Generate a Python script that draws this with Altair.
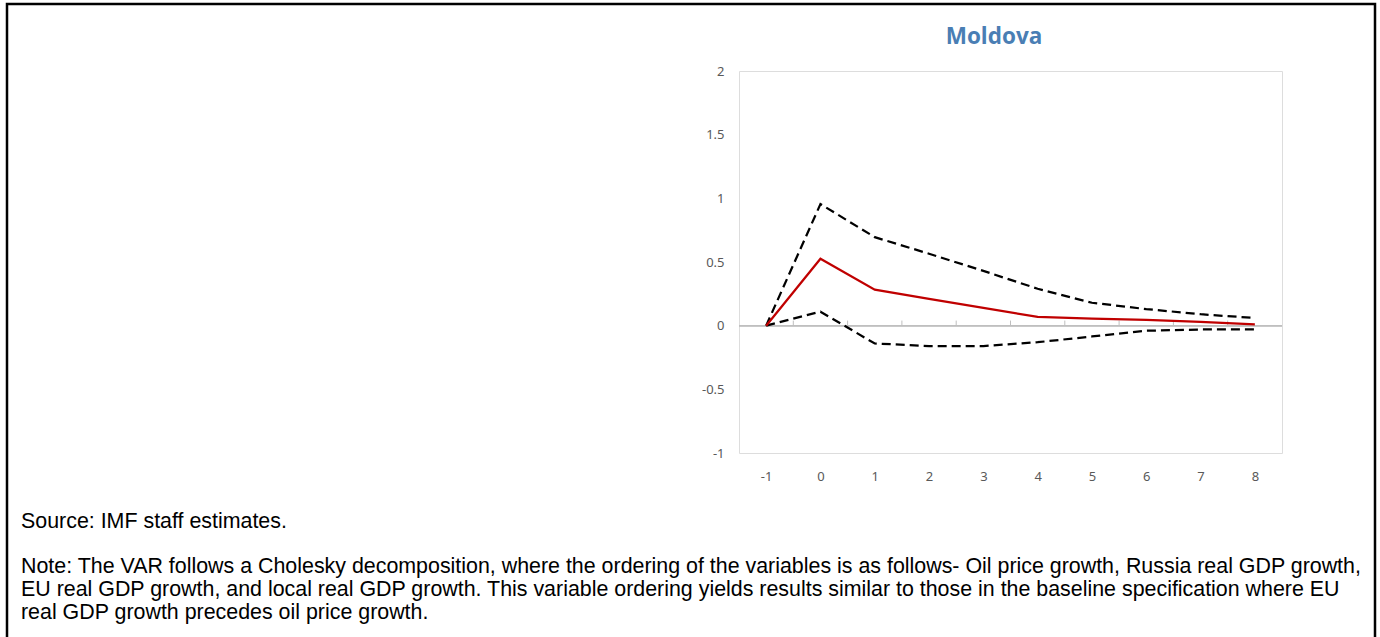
import altair as alt
import pandas as pd

# Impulse response horizon (quarters) and responses
horizon = [-1, 0, 1, 2, 3, 4, 5, 6, 7, 8]
response = [0.0, 0.525, 0.283, 0.21, 0.14, 0.069, 0.055, 0.045, 0.03, 0.01]
upper_band = [0.0, 0.955, 0.695, 0.565, 0.43, 0.29, 0.18, 0.13, 0.09, 0.06]
lower_band = [0.0, 0.11, -0.14, -0.16, -0.16, -0.13, -0.085, -0.04, -0.03, -0.03]

y_ticks = [-1, -0.5, 0, 0.5, 1, 1.5, 2]
boundary_ticks = [-0.5, 0.5, 1.5, 2.5, 3.5, 4.5, 5.5, 6.5, 7.5]

title_text = "Moldova"
source_text = "Source: IMF staff estimates."
note_lines = [
    "Note: The VAR follows a Cholesky decomposition, where the ordering of the variables is as follows- Oil price growth, Russia real GDP growth,",
    "EU real GDP growth, and local real GDP growth. This variable ordering yields results similar to those in the baseline specification where EU",
    "real GDP growth precedes oil price growth.",
]

resp_df = pd.DataFrame({"h": horizon, "v": response})
band_df = pd.concat([
    pd.DataFrame({"h": horizon, "v": upper_band, "band": "upper"}),
    pd.DataFrame({"h": horizon, "v": lower_band, "band": "lower"}),
])
tick_df = pd.DataFrame({"h": boundary_ticks})

AXIS_FONT = "Noto Sans"
NOTE_FONT = "Liberation Sans"

x_scale = alt.Scale(domain=[-1.5, 8.5], nice=False, zero=False)
y_scale = alt.Scale(domain=[-1, 2], nice=False)

x_enc = alt.X(
    "h:Q", scale=x_scale,
    axis=alt.Axis(values=horizon, ticks=False, domain=False, grid=False,
                  labelPadding=17, labelFontSize=13, labelColor="#595959",
                  labelFont=AXIS_FONT, title=None, labelFlush=False,
                  labelExpr="toString(datum.value)"),
)
y_enc = alt.Y(
    "v:Q", scale=y_scale,
    axis=alt.Axis(values=y_ticks, ticks=False, domain=False, grid=False,
                  labelPadding=15, labelFontSize=13, labelColor="#595959",
                  labelFont=AXIS_FONT, title=None,
                  labelExpr="toString(datum.value)"),
)

# zero line with category-boundary tick marks
zero_line = alt.Chart(resp_df).mark_rule(color="#bfbfbf", strokeWidth=1).encode(
    x=alt.value(0), x2=alt.value(543), y=alt.datum(0, scale=y_scale)
)
boundary = alt.Chart(tick_df).mark_rule(color="#bfbfbf", strokeWidth=1).encode(
    x=alt.X("h:Q", scale=x_scale),
    y=alt.datum(0),
    y2=alt.datum(0.04),
)

bands = alt.Chart(band_df).mark_line(
    color="black", strokeWidth=2.25, strokeDash=[9, 5]
).encode(x=x_enc, y=y_enc, detail="band:N")

resp_line = alt.Chart(resp_df).mark_line(color="#c00000", strokeWidth=2.25).encode(
    x=x_enc, y=y_enc
)

# panel title above the plot
title = alt.Chart(pd.DataFrame({"t": [title_text]})).mark_text(
    align="center", baseline="middle", font="Open Sans", fontSize=22.5,
    fontWeight="bold", color="#4a7eb4",
).encode(x=alt.value(255), y=alt.value(-34), text="t:N")

# outer frame around the exhibit
frame = alt.Chart(pd.DataFrame({"k": [0]})).mark_rect(
    fill="white", fillOpacity=0, stroke="black", strokeWidth=2.5
).encode(x=alt.value(-732), x2=alt.value(636), y=alt.value(-67), y2=alt.value(590))

source = alt.Chart(pd.DataFrame({"t": [source_text]})).mark_text(
    align="left", baseline="middle", font=NOTE_FONT, fontSize=21.4, color="black"
).encode(x=alt.value(-718), y=alt.value(451), text="t:N")

note = alt.Chart(pd.DataFrame({"k": [0]})).mark_text(
    align="left", baseline="middle", font=NOTE_FONT, fontSize=21.4, color="black",
    lineHeight=23,
).encode(x=alt.value(-718), y=alt.value(496), text=alt.value(note_lines))

chart = alt.layer(
    frame, zero_line, boundary, bands, resp_line, title, source, note
).properties(
    width=543,
    height=382,
    padding={"left": 739, "top": 71, "right": 98, "bottom": 184},
    autosize=alt.AutoSizeParams(type="none"),
).configure_view(stroke="#bfbfbf", strokeWidth=1).configure(background="white")

chart.save("out.html", embed_options={"renderer": "svg", "actions": False})
